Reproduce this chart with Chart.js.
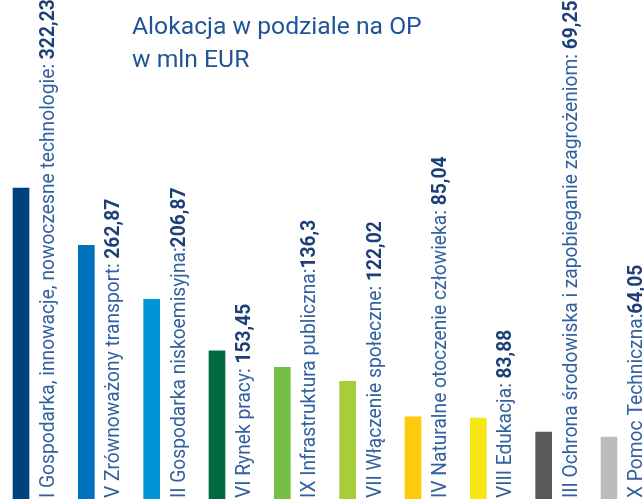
<!DOCTYPE html>
<html>
<head>
<meta charset="utf-8">
<script src="https://cdn.jsdelivr.net/npm/chart.js@4/dist/chart.umd.min.js"></script>
<style>
    html, body { margin: 0; padding: 0; background: #ffffff; overflow: hidden; }
    #alokacja_Chart { display: block; }
</style>
</head>
<body>
<canvas id="alokacja_Chart" width="644" height="499"></canvas>
<script>
// dane: alokacja w podziale na OP (mln EUR)
var categories = [
    'I Gospodarka, innowacje, nowoczesne technologie: ',
    'V Zrównoważony transport: ',
    'II Gospodarka niskoemisyjna:',
    'VI Rynek pracy: ',
    'IX Infrastruktura publiczna:',
    'VII Włączenie społeczne: ',
    'IV Naturalne otoczenie człowieka: ',
    'VIII Edukacja: ',
    'III Ochrona środowiska i zapobieganie zagrożeniom: ',
    'X Pomoc Techniczna:'
];
var values = [322.23, 262.87, 206.87, 153.45, 136.3, 122.02, 85.04, 83.88, 69.25, 64.05];
var barColors = ['#00427f', '#0071bb', '#0095d6', '#006a3f', '#74bf44', '#a6ce39', '#fecb0a', '#f6e614', '#58595b', '#bbbcbc'];
var titleLines = ['Alokacja w podziale na OP', 'w mln EUR'];

var ctx = document.getElementById('alokacja_Chart');

function formatValue(v) {
    return String(v).replace('.', ',');
}

// podpisy pionowe obok słupków + tytuł
var labelsPlugin = {
    id: 'barLabels',
    afterDatasetsDraw: function (chart) {
        var c = chart.ctx;
        var meta = chart.getDatasetMeta(0);
        var bottom = chart.chartArea.bottom;
        c.save();
        meta.data.forEach(function (bar, i) {
            c.save();
            c.translate(bar.x + 33, bottom - 1);
            c.rotate(-Math.PI / 2);
            c.scale(0.915, 1); // węższy krój jak w oryginale
            c.textAlign = 'left';
            c.textBaseline = 'alphabetic';
            c.font = '21px Roboto';
            c.fillStyle = '#3361a0';
            c.fillText(categories[i], 0, 0);
            var w = c.measureText(categories[i]).width;
            c.font = 'bold 21px Roboto';
            c.fillStyle = '#1c3f78';
            c.fillText(formatValue(values[i]), w, 0);
            c.restore();
        });
        c.font = '24.7px Roboto';
        c.fillStyle = '#1f5596';
        c.textAlign = 'left';
        c.textBaseline = 'alphabetic';
        titleLines.forEach(function (line, i) {
            c.fillText(line, 132, 34 + i * 33);
        });
        c.restore();
    }
};

var myChart = new Chart(ctx, {
    type: 'bar',
    data: {
        labels: categories,
        datasets: [{
            data: values,
            backgroundColor: barColors,
            borderWidth: 0,
            barThickness: 16,
            clip: false
        }]
    },
    options: {
        responsive: false,
        animation: false,
        layout: {
            padding: { left: 21, right: 35, top: 0, bottom: 0 }
        },
        scales: {
            x: { display: false, offset: false },
            y: { display: false, min: 0, max: 517 }
        },
        plugins: {
            legend: { display: false },
            tooltip: { enabled: false },
            title: { display: false }
        }
    },
    plugins: [labelsPlugin]
});
</script>
</body>
</html>
